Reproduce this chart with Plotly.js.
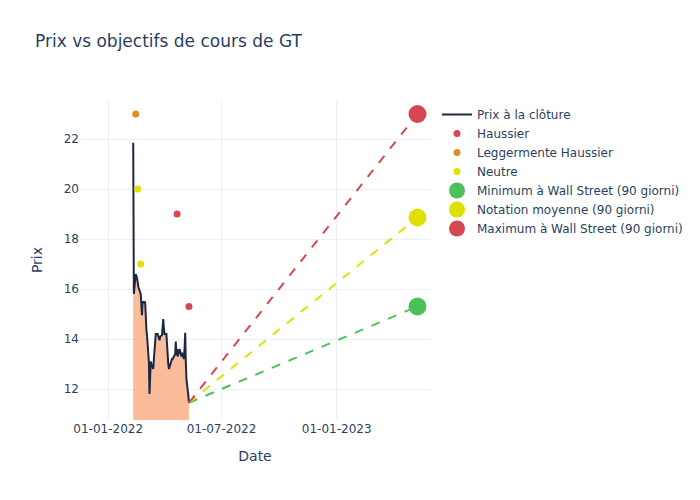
<!DOCTYPE html>
<html>
<head>
<meta charset="utf-8">
<script src="https://cdn.plot.ly/plotly-3.0.1.min.js"></script>
<style>html,body{margin:0;padding:0;}#chart{width:700px;height:500px;}</style>
</head>
<body>
<div id="chart"></div>
<script>
const priceDates = ["2022-02-10","2022-02-11","2022-02-14","2022-02-15","2022-02-16","2022-02-17","2022-02-18","2022-02-22","2022-02-23","2022-02-24","2022-02-25","2022-02-28","2022-03-01","2022-03-02","2022-03-03","2022-03-04","2022-03-07","2022-03-08","2022-03-09","2022-03-10","2022-03-11","2022-03-14","2022-03-15","2022-03-16","2022-03-17","2022-03-18","2022-03-21","2022-03-22","2022-03-23","2022-03-24","2022-03-25","2022-03-28","2022-03-29","2022-03-30","2022-03-31","2022-04-01","2022-04-04","2022-04-05","2022-04-06","2022-04-07","2022-04-08","2022-04-11","2022-04-12","2022-04-13","2022-04-14","2022-04-18","2022-04-19","2022-04-20","2022-04-21","2022-04-22","2022-04-25","2022-04-26","2022-04-27","2022-04-28","2022-04-29","2022-05-02","2022-05-03","2022-05-04","2022-05-05","2022-05-06","2022-05-09","2022-05-10"];
const priceValues = [21.85,15.8,16.6,16.55,16.45,16.3,16.1,15.8,15.4,14.95,15.5,15.45,15.5,14.6,14.4,14.15,13.1,11.8,12.9,13.1,13.0,12.8,13.2,13.6,14.0,14.2,14.2,14.1,14.0,13.95,14.1,14.15,14.5,14.8,14.4,14.2,14.2,13.55,13.2,13.0,12.8,13.1,13.15,13.2,13.2,13.4,13.9,13.35,13.6,13.3,13.6,13.5,13.3,13.3,13.45,13.2,13.6,14.25,13.1,12.4,11.75,11.45];

const haussierDates = ["2022-04-21","2022-05-10"];
const haussierValues = [19.0, 15.3];
const legerDates = ["2022-02-14"];
const legerValues = [23.0];
const neutreDates = ["2022-02-17","2022-02-22"];
const neutreValues = [20.0, 17.0];

const targetDate = "2023-05-10";
const targetMin = 15.3;
const targetMean = 18.86;
const targetMax = 23.0;

const lastDate = priceDates[priceDates.length-1];
const lastPrice = priceValues[priceValues.length-1];

const RED = "#d6484f", YEL = "#e0e000", GRN = "#4cc05a", ORA = "#de8c28";

const traces = [
  {x: priceDates, y: priceValues, type: "scatter", mode: "lines", showlegend: false, hoverinfo: "skip",
   line: {width: 0, color: "rgba(0,0,0,0)"}, fill: "tozeroy", fillcolor: "rgba(248,160,110,0.7)"},
  {x: priceDates, y: priceValues, type: "scatter", mode: "lines", name: "Prix à la clôture",
   line: {color: "#1d2744", width: 2}},
  {x: haussierDates, y: haussierValues, type: "scatter", mode: "markers", name: "Haussier",
   marker: {color: RED, size: 7}},
  {x: legerDates, y: legerValues, type: "scatter", mode: "markers", name: "Leggermente Haussier",
   marker: {color: ORA, size: 7}},
  {x: neutreDates, y: neutreValues, type: "scatter", mode: "markers", name: "Neutre",
   marker: {color: YEL, size: 7}},
  {x: [lastDate, targetDate], y: [lastPrice, targetMin], type: "scatter", mode: "lines", showlegend: false,
   line: {color: GRN, dash: "dash", width: 2}, hoverinfo: "skip"},
  {x: [lastDate, targetDate], y: [lastPrice, targetMean], type: "scatter", mode: "lines", showlegend: false,
   line: {color: YEL, dash: "dash", width: 2}, hoverinfo: "skip"},
  {x: [lastDate, targetDate], y: [lastPrice, targetMax], type: "scatter", mode: "lines", showlegend: false,
   line: {color: RED, dash: "dash", width: 2}, hoverinfo: "skip"},
  {x: [targetDate], y: [targetMin], type: "scatter", mode: "markers", name: "Minimum à Wall Street (90 giorni)",
   marker: {color: GRN, size: 18}},
  {x: [targetDate], y: [targetMean], type: "scatter", mode: "markers", name: "Notation moyenne (90 giorni)",
   marker: {color: YEL, size: 18}},
  {x: [targetDate], y: [targetMax], type: "scatter", mode: "markers", name: "Maximum à Wall Street (90 giorni)",
   marker: {color: RED, size: 18}}
];

const layout = {
  width: 700, height: 500,
  template: "plotly_white",
  paper_bgcolor: "#ffffff", plot_bgcolor: "#ffffff",
  font: {family: "DejaVu Sans, sans-serif", color: "#2a3f5f", size: 12},
  title: {text: "Prix vs objectifs de cours de GT", x: 0.05, xanchor: "left", y: 0.93, font: {size: 17}},
  margin: {l: 80, r: 20, t: 100, b: 80},
  xaxis: {title: {text: "Date", standoff: 16}, automargin: true, type: "date", range: ["2021-11-17", "2023-05-30"],
          tickformat: "%d-%m-%Y", dtick: "M6", tick0: "2022-01-01",
          gridcolor: "#EBF0F8", zeroline: false, showline: false},
  yaxis: {title: {text: "Prix"}, range: [10.76, 23.56], dtick: 2, tick0: 0,
          gridcolor: "#EBF0F8", zeroline: false},
  legend: {x: 1.02, y: 1, xanchor: "left", yanchor: "top", font: {size: 12}},
  showlegend: true
};

Plotly.newPlot("chart", traces, layout, {displayModeBar: false});
</script>
</body>
</html>
